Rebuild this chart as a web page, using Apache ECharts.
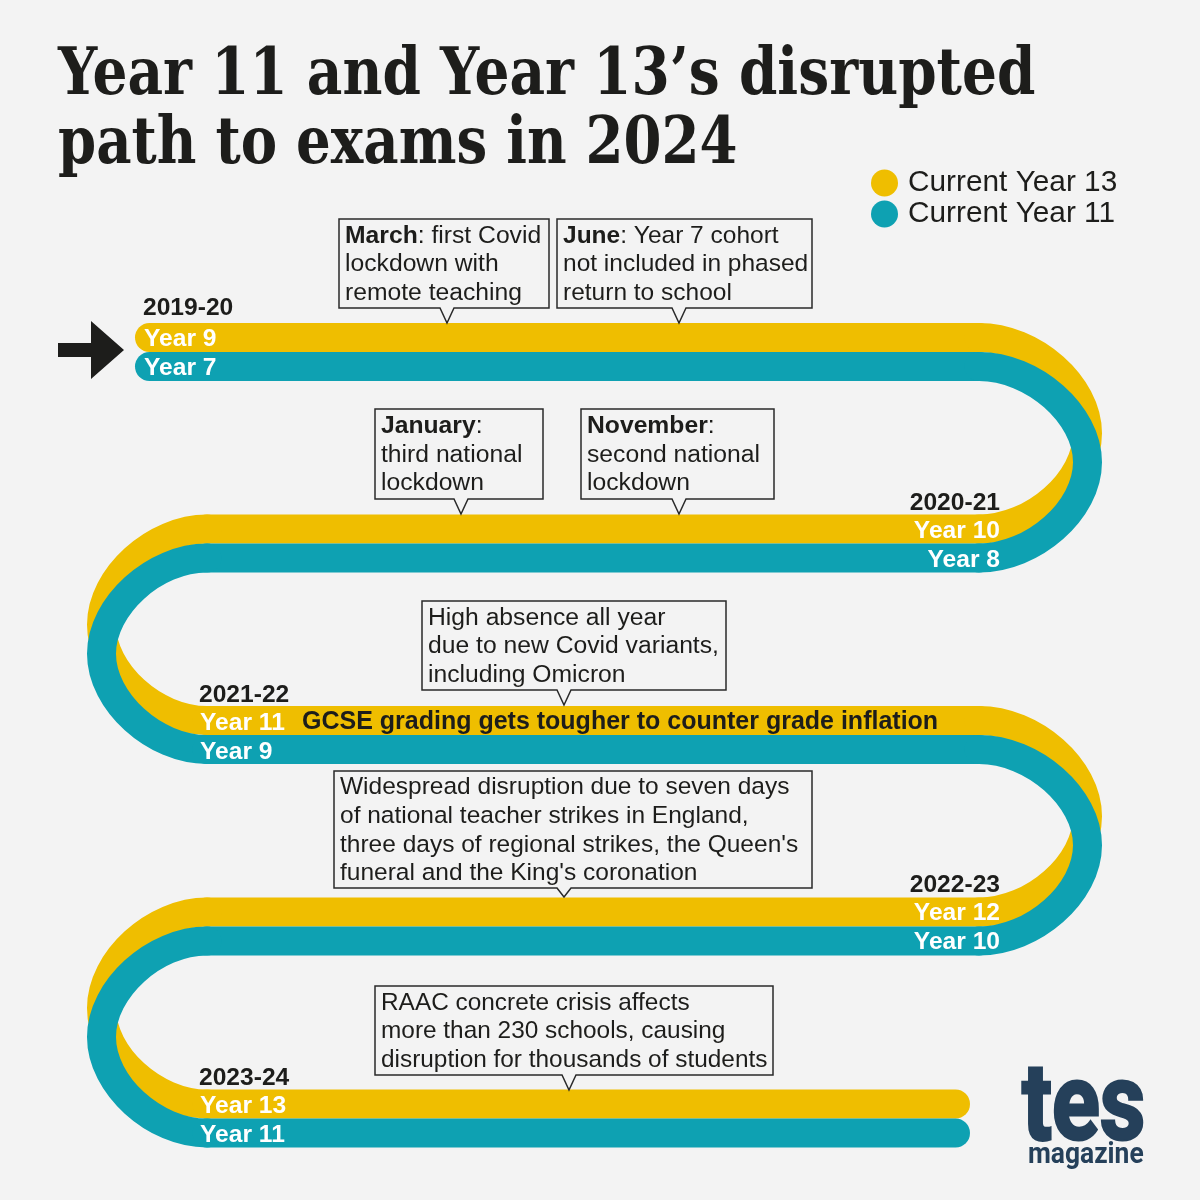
<!DOCTYPE html>
<html>
<head>
<meta charset="utf-8">
<style>html,body{margin:0;padding:0;background:#f3f3f3}#chart{width:1200px;height:1200px}</style>
<script src="https://cdn.jsdelivr.net/npm/echarts@6/dist/echarts.min.js"></script>
</head>
<body>
<div id="chart"></div>
<script>
var titleLines = ['Year 11 and Year 13\u2019s disrupted', 'path to exams in 2024'];
var seriesNames = ['Current Year 13', 'Current Year 11'];

// road centre lines, turn points
var goldX = [149.5, 979, 979, 207, 207, 979, 979, 207, 207, 955.5];
var goldY = [337.5, 337.5, 529, 529, 720.5, 720.5, 912, 912, 1104, 1104];
var tealX = [149.5, 979, 979, 207, 207, 979, 979, 207, 207, 955.5];
var tealY = [366.5, 366.5, 558, 558, 749.5, 749.5, 941, 941, 1133, 1133];
var bendRight = 1087.5;
var bendLeft = 101.5;

var periodLabels = ['2019-20', '2020-21', '2021-22', '2022-23', '2023-24'];
var goldLabels = ['Year 9', 'Year 10', 'Year 11', 'Year 12', 'Year 13'];
var tealLabels = ['Year 7', 'Year 8', 'Year 9', 'Year 10', 'Year 11'];
var gradingNote = 'GCSE grading gets tougher to counter grade inflation';

var calloutLeads = ['March', 'June', 'January', 'November', '', '', ''];
var calloutTexts = [
    [': first Covid', 'lockdown with', 'remote teaching'],
    [': Year 7 cohort', 'not included in phased', 'return to school'],
    [':', 'third national', 'lockdown'],
    [':', 'second national', 'lockdown'],
    ['High absence all year', 'due to new Covid variants,', 'including Omicron'],
    ['Widespread disruption due to seven days', 'of national teacher strikes in England,', 'three days of regional strikes, the Queen\'s', 'funeral and the King\'s coronation'],
    ['RAAC concrete crisis affects', 'more than 230 schools, causing', 'disruption for thousands of students']
];

// layout
var calloutBoxes = [
    [339, 219, 549, 308, 447, 323],
    [557, 219, 812, 308, 679, 323],
    [375, 409, 543, 499, 461, 514],
    [581, 409, 774, 499, 679, 514],
    [422, 601, 726, 690, 564, 705],
    [334, 771, 812, 888, 564, 897],
    [375, 986, 773, 1075, 569, 1090]
];
var calloutFontSizes = [24.7, 24.5, 24.7, 24.7, 24.7, 24.5, 24.4];
var periodPos = [[143, 308, 'left'], [1000, 503, 'right'], [199, 695, 'left'], [1000, 885, 'right'], [199, 1078, 'left']];
var goldPos = [[144, 339, 'left'], [1000, 531, 'right'], [200, 723, 'left'], [1000, 913, 'right'], [200, 1106, 'left']];
var tealPos = [[144, 368, 'left'], [1000, 560, 'right'], [200, 752, 'left'], [1000, 942, 'right'], [200, 1135, 'left']];

var GOLD = '#efbe00';
var TEAL = '#0ea1b2';
var BG = '#f3f3f3';
var INK = '#1d1d1b';
var LOGO = '#25405a';
var SANS = '"Liberation Sans", Arial, sans-serif';
var SERIF = '"DejaVu Serif", serif';

var chart = echarts.init(document.getElementById('chart'));

function zip(xs, ys) {
    return xs.map(function (x, i) { return [x, ys[i]]; });
}

// one road segment per data item: straight, or a U bend when x does not change
function renderRoad(xs, ys, color) {
    return function (params, api) {
        var i = params.dataIndex;
        if (i === 0) return null;
        var from = api.coord([xs[i - 1], ys[i - 1]]);
        var to = api.coord([xs[i], ys[i]]);
        var d = 'M' + from[0] + ' ' + from[1];
        if (xs[i] === xs[i - 1]) {
            // bends are a bit more pointed than a true circle, hence the 0.5 handles
            var edge = api.coord([xs[i - 2] < xs[i] ? bendRight : bendLeft, ys[i]])[0];
            var midY = (from[1] + to[1]) / 2;
            var h = (to[1] - from[1]) / 2 * 0.5;
            var hx = from[0] + (edge - from[0]) * 0.5;
            d += 'C' + hx + ' ' + from[1] + ' ' + edge + ' ' + (midY - h) + ' ' + edge + ' ' + midY;
            d += 'C' + edge + ' ' + (midY + h) + ' ' + hx + ' ' + to[1] + ' ' + to[0] + ' ' + to[1];
        } else {
            d += 'L' + to[0] + ' ' + to[1];
        }
        return {
            type: 'path',
            shape: { pathData: d },
            style: { fill: 'none', stroke: color, lineWidth: 29, lineCap: 'round' }
        };
    };
}

function renderCallout(params, api) {
    var i = params.dataIndex;
    var b = calloutBoxes[i];
    var size = calloutFontSizes[i];
    var tl = api.coord([b[0], b[1]]);
    var br = api.coord([b[2], b[3]]);
    var tip = api.coord([b[4], b[5]]);
    var d = 'M' + tl[0] + ' ' + tl[1] + 'L' + br[0] + ' ' + tl[1] + 'L' + br[0] + ' ' + br[1] +
        'L' + (tip[0] + 7) + ' ' + br[1] + 'L' + tip[0] + ' ' + tip[1] + 'L' + (tip[0] - 7) + ' ' + br[1] +
        'L' + tl[0] + ' ' + br[1] + 'Z';
    var lines = calloutTexts[i].map(function (t) { return '{r|' + t + '}'; });
    if (calloutLeads[i]) lines[0] = '{b|' + calloutLeads[i] + '}' + lines[0];
    return {
        type: 'group',
        children: [{
            type: 'path',
            shape: { pathData: d },
            style: { fill: BG, stroke: '#2a2a2a', lineWidth: 1.5 }
        }, {
            type: 'text',
            x: tl[0] + 6,
            y: (tl[1] + br[1]) / 2 + 1,
            style: {
                text: lines.join('\n'),
                verticalAlign: 'middle',
                align: 'left',
                rich: {
                    r: { fontFamily: SANS, fontSize: size, lineHeight: 28.6, fill: INK },
                    b: { fontFamily: SANS, fontSize: size, lineHeight: 28.6, fontWeight: 'bold', fill: INK }
                }
            }
        }]
    };
}

function labelSeries(texts, pos, color, size) {
    return {
        type: 'custom',
        coordinateSystem: 'cartesian2d',
        silent: true,
        clip: false,
        data: texts.map(function (t, i) { return [pos[i][0], pos[i][1]]; }),
        renderItem: function (params, api) {
            var p = api.coord([api.value(0), api.value(1)]);
            return {
                type: 'text',
                x: p[0],
                y: p[1],
                style: {
                    text: texts[params.dataIndex],
                    align: pos[params.dataIndex][2],
                    verticalAlign: 'middle',
                    fontFamily: SANS,
                    fontWeight: 'bold',
                    fontSize: size,
                    fill: color
                }
            };
        }
    };
}

var option = {
    backgroundColor: BG,
    animation: false,
    color: [GOLD, TEAL],
    grid: { left: 0, right: 0, top: 0, bottom: 0 },
    xAxis: { type: 'value', min: 0, max: 1200, show: false },
    yAxis: { type: 'value', min: 0, max: 1200, inverse: true, show: false },
    legend: {
        left: 871,
        top: 168,
        orient: 'vertical',
        icon: 'circle',
        itemWidth: 27,
        itemHeight: 27,
        itemGap: 1,
        padding: 0,
        selectedMode: false,
        data: seriesNames,
        textStyle: {
            fontFamily: SANS,
            fontSize: 29.8,
            color: INK,
            padding: [4, 0, 0, 5]
        }
    },
    graphic: [{
        type: 'text',
        x: 58,
        y: 44,
        scaleX: 0.833,
        silent: true,
        style: {
            text: titleLines[0],
            fontFamily: SERIF,
            fontWeight: 'bold',
            fontSize: 66,
            fill: INK
        }
    }, {
        type: 'text',
        x: 58,
        y: 112.5,
        scaleX: 0.827,
        silent: true,
        style: {
            text: titleLines[1],
            fontFamily: SERIF,
            fontWeight: 'bold',
            fontSize: 66,
            fill: INK
        }
    }, {
        // start arrow
        type: 'polygon',
        silent: true,
        shape: { points: [[58, 343], [91, 343], [91, 321], [124, 350], [91, 379], [91, 357], [58, 357]] },
        style: { fill: INK }
    }, {
        type: 'text',
        x: 1022,
        y: 1058,
        scaleX: 0.82,
        silent: true,
        style: {
            text: 'tes',
            fontFamily: 'Roboto, sans-serif',
            fontWeight: 'bold',
            fontSize: 108,
            fill: LOGO,
            stroke: LOGO,
            lineWidth: 3
        }
    }, {
        type: 'text',
        x: 1028,
        y: 1141,
        scaleX: 0.91,
        silent: true,
        style: {
            text: 'magazine',
            fontFamily: 'Roboto, sans-serif',
            fontWeight: 'bold',
            fontSize: 29,
            fill: LOGO
        }
    }],
    series: [{
        name: seriesNames[0],
        type: 'custom',
        coordinateSystem: 'cartesian2d',
        silent: true,
        clip: false,
        itemStyle: { color: GOLD },
        data: zip(goldX, goldY),
        renderItem: renderRoad(goldX, goldY, GOLD)
    }, {
        name: seriesNames[1],
        type: 'custom',
        coordinateSystem: 'cartesian2d',
        silent: true,
        clip: false,
        itemStyle: { color: TEAL },
        data: zip(tealX, tealY),
        renderItem: renderRoad(tealX, tealY, TEAL)
    }, {
        type: 'custom',
        coordinateSystem: 'cartesian2d',
        silent: true,
        clip: false,
        data: calloutBoxes.map(function (b) { return [b[0], b[1]]; }),
        renderItem: renderCallout
    },
    labelSeries(periodLabels, periodPos, INK, 24.6),
    labelSeries(goldLabels, goldPos, '#ffffff', 24.6),
    labelSeries(tealLabels, tealPos, '#ffffff', 24.6),
    labelSeries([gradingNote], [[302, 722, 'left']], INK, 25)]
};

chart.setOption(option);
</script>
</body>
</html>
